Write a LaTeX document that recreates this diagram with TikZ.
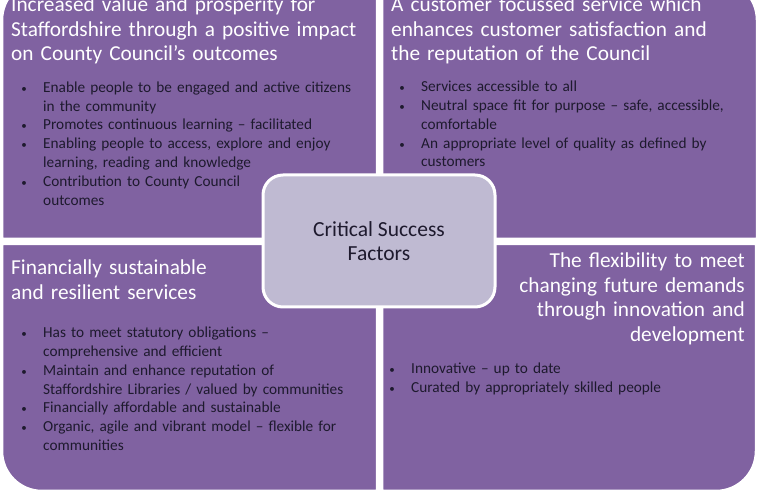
\documentclass[tikz,border=0pt]{standalone}
\usepackage{fontspec}
\setmainfont{Carlito}
\usetikzlibrary{positioning}
\definecolor{quadpurple}{RGB}{128,98,161}
\definecolor{csfgrey}{RGB}{191,186,210}
\definecolor{bodyink}{RGB}{30,26,46}
\newcommand{\critem}[1]{\par\leftskip=19pt\noindent
  \llap{\makebox[0pt][c]{\fontsize{11}{11}\selectfont\textbullet}\hspace{19pt}}#1\par}

\begin{document}
\begin{tikzpicture}[
  x=1pt,y=1pt,
  quad/.style={fill=quadpurple,draw=white,line width=2.5pt},
  ttl/.style={anchor=base west,inner sep=0pt,text=white,text width=370pt,
              align=left,font=\fontsize{21.3}{24.5}\selectfont},
  blist/.style={anchor=base west,inner sep=0pt,text=bodyink,text width=340pt,
              font=\fontsize{15.3}{18.8}\selectfont},
  csfbox/.style={rectangle,rounded corners=20pt,fill=csfgrey,draw=white,line width=3pt,
              minimum width=232pt,minimum height=132pt,text=bodyink,align=center,
              font=\fontsize{21.5}{24}\selectfont},
]
\useasboundingbox (0,0) rectangle (760,500);
\fill[white] (0,0) rectangle (760,500);
\clip (0,0) rectangle (760,500);

% ---------- quadrants ----------
\draw[quad] (377,261) -- (2,261) -- (2,480) arc[start angle=180,end angle=90,radius=40]
  -- (377,520) -- cycle;
\draw[quad] (382,261) -- (382,520) -- (717,520) arc[start angle=90,end angle=0,radius=40]
  -- (757,261) -- cycle;
\draw[quad] (377,256) -- (2,256) -- (2,49) arc[start angle=180,end angle=270,radius=40]
  -- (377,9) -- cycle;
\draw[quad] (382,256) -- (756,256) -- (756,49) arc[start angle=0,end angle=-90,radius=40]
  -- (382,9) -- cycle;

% ---------- top left ----------
\node[ttl] (tlhead) at (11,488)
  {Increased value and prosperity for\\Staffordshire through a positive impact\\on County Council’s outcomes};
\node[blist] (tlbody) at (24,426.5) {%
  \critem{Enable people to be engaged and active citizens\\in the community}
  \critem{Promotes continuous learning -- facilitated}
  \critem{Enabling people to access, explore and enjoy\\learning, reading and knowledge}
  \critem{Contribution to County Council\\outcomes}};

% ---------- top right ----------
\node[ttl] (trhead) at (391,488)
  {A customer focussed service which\\enhances customer satisfaction and\\the reputation of the Council};
\node[blist] (trbody) at (402,427) {%
  \critem{Services accessible to all}
  \critem{Neutral space fit for purpose -- safe, accessible,\\comfortable}
  \critem{An appropriate level of quality as defined by\\customers}};

% ---------- bottom left ----------
\node[ttl] (blhead) at (11,225) {Financially sustainable\\and resilient services};
\node[blist] (blbody) at (24,181) {%
  \critem{Has to meet statutory obligations --\\comprehensive and efficient}
  \critem{Maintain and enhance reputation of\\Staffordshire Libraries / valued by communities}
  \critem{Financially affordable and sustainable}
  \critem{Organic, agile and vibrant model -- flexible for\\communities}};

% ---------- bottom right ----------
\node[ttl,anchor=base east,align=right] (brhead) at (745,232)
  {The flexibility to meet\\changing future demands\\through innovation and\\development};
\node[blist] (brbody) at (392,145.5) {%
  \critem{Innovative -- up to date}
  \critem{Curated by appropriately skilled people}};

% ---------- centre ----------
\node[csfbox] (csf) at (379,259) {Critical Success\\Factors};
\end{tikzpicture}
\end{document}
